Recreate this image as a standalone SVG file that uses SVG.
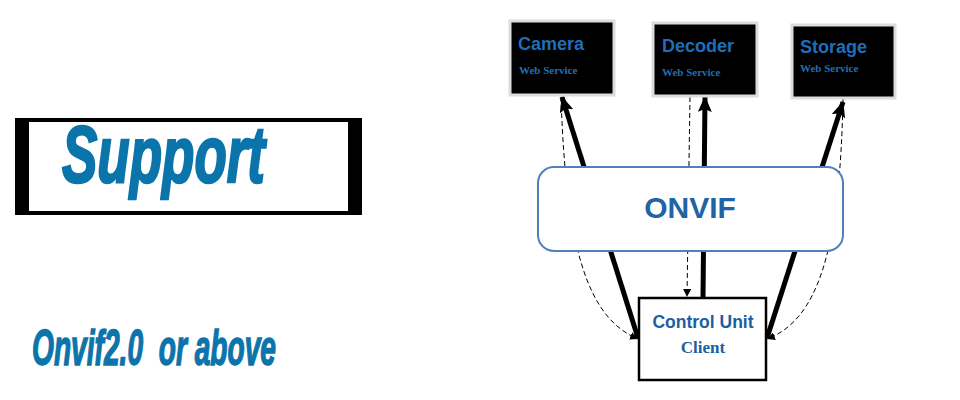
<svg xmlns="http://www.w3.org/2000/svg" width="960" height="400" viewBox="0 0 960 400">
<defs>
<style>
.svc{fill:#000;stroke:#dcdcdc;stroke-width:3}
.title{font-family:"Liberation Sans",Arial,sans-serif;font-weight:bold;fill:#1f6fb8;font-size:18px}
.sub{font-family:"Liberation Serif","Times New Roman",serif;font-weight:bold;fill:#1f6fb8;font-size:11px}
.big{font-family:"Liberation Sans",Arial,sans-serif;font-weight:bold;font-style:italic;fill:#0b74ab;stroke:#0b74ab}
.thick{stroke:#000;stroke-width:5;fill:none}
.dash{stroke:#000;stroke-width:1;stroke-dasharray:5,3;fill:none}
</style>
<marker id="ah" markerUnits="userSpaceOnUse" markerWidth="16" markerHeight="14" refX="15" refY="7" orient="auto">
<path d="M0,0 L16,7 L0,14 L3,7 z" fill="#000"/>
</marker>
<marker id="ahs" markerUnits="userSpaceOnUse" markerWidth="8" markerHeight="8" refX="8" refY="4" orient="auto">
<path d="M0,0 L8,4 L0,8 z" fill="#000"/>
</marker>
</defs>
<rect width="960" height="400" fill="#fff"/>

<g id="support">
<rect x="15" y="118" width="347" height="97" fill="#000"/>
<rect x="29" y="122" width="319" height="89" fill="#fff"/>
<text class="big" x="62" y="182" font-size="80" stroke-width="2.5" textLength="203" lengthAdjust="spacingAndGlyphs">Support</text>
</g>
<g id="version">
<text class="big" x="32" y="365" font-size="50" stroke-width="1.5" textLength="244" lengthAdjust="spacingAndGlyphs" xml:space="preserve">Onvif2.0  or above</text>
</g>

<g id="connectors">
<line class="thick" x1="638" y1="338" x2="562" y2="97" marker-end="url(#ah)"/>
<line class="thick" x1="703" y1="298" x2="705" y2="97" marker-end="url(#ah)"/>
<line class="thick" x1="767" y1="338" x2="843" y2="102" marker-end="url(#ah)"/>
<path class="dash" d="M561,97 C566,250 588,318 638,339" marker-end="url(#ahs)"/>
<path class="dash" d="M690,97 L687,297" marker-end="url(#ahs)"/>
<path class="dash" d="M843,99 C840,250 818,320 767,339" marker-end="url(#ahs)"/>
</g>

<g id="camera">
<rect class="svc" x="510" y="21" width="104" height="74"/>
<text class="title" x="518" y="50">Camera</text>
<text class="sub" x="519" y="74">Web Service</text>
</g>
<g id="decoder">
<rect class="svc" x="653" y="23" width="104" height="73"/>
<text class="title" x="662" y="52">Decoder</text>
<text class="sub" x="662" y="76">Web Service</text>
</g>
<g id="storage">
<rect class="svc" x="792" y="25" width="103" height="73"/>
<text class="title" x="800" y="53">Storage</text>
<text class="sub" x="800" y="72">Web Service</text>
</g>

<g id="onvif">
<rect x="538" y="167" width="305" height="84" rx="16" fill="#fff" stroke="#4f81bd" stroke-width="2"/>
<text x="690" y="218" text-anchor="middle" font-family="Liberation Sans,Arial,sans-serif" font-weight="bold" font-size="30" fill="#1f65a6">ONVIF</text>
</g>

<g id="control">
<rect x="639" y="298" width="127" height="82" fill="#fff" stroke="#000" stroke-width="2.5"/>
<text x="703" y="328" text-anchor="middle" font-family="Liberation Sans,Arial,sans-serif" font-weight="bold" font-size="17.5" fill="#1a60a3">Control Unit</text>
<text x="703" y="353" text-anchor="middle" font-family="Liberation Serif,Times New Roman,serif" font-weight="bold" font-size="17" fill="#1a60a3">Client</text>
</g>
</svg>
